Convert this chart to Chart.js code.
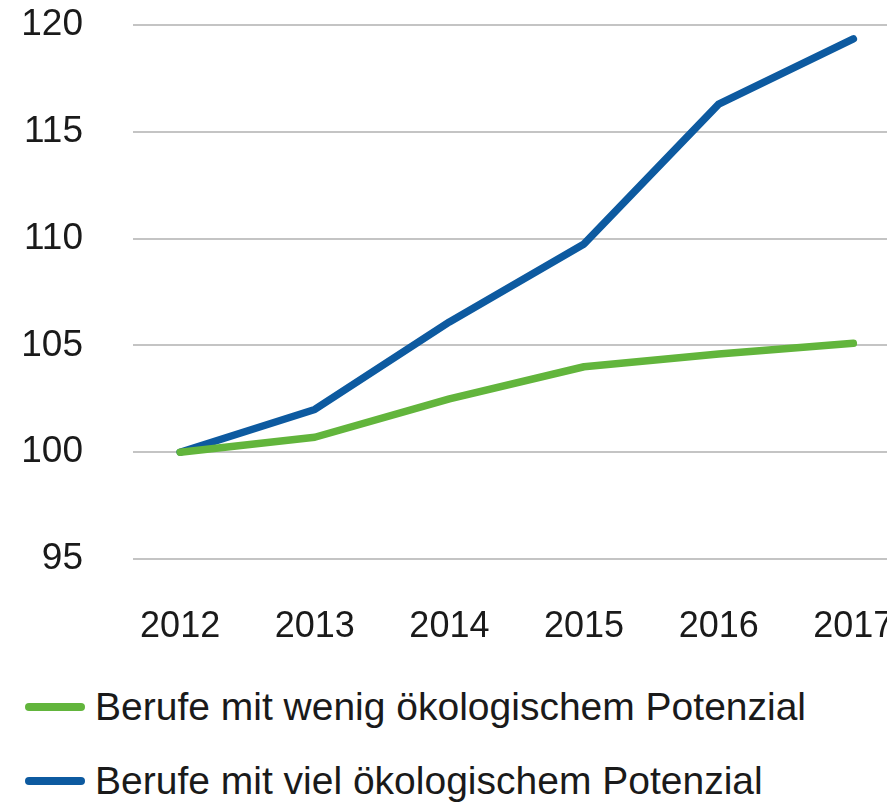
<!DOCTYPE html>
<html>
<head>
<meta charset="utf-8">
<script src="https://cdn.jsdelivr.net/npm/chart.js@4"></script>
<style>
  html, body { margin: 0; padding: 0; background: #fff; overflow: hidden; }
  #wrap { position: relative; width: 887px; height: 660px; }
  #legend { position: absolute; left: 0; top: 670px; width: 887px; }
  .item { display: flex; align-items: center; height: 74px; font-family: "Liberation Sans Narrow", "Liberation Sans", Arial, sans-serif; font-size: 39px; color: #1a1a1a; }
  .swatch { width: 60px; height: 8px; border-radius: 4px; margin-left: 25px; margin-right: 10px; }
</style>
</head>
<body>
<div id="wrap"><canvas id="chart" width="887" height="660"></canvas></div>
<div id="legend"></div>
<script>
// Data
const years = [2012, 2013, 2014, 2015, 2016, 2017];
const wenig = [100, 100.7, 102.5, 104.0, 104.6, 105.1];
const viel = [100, 102.0, 106.1, 109.75, 116.3, 119.35];
const seriesNames = ['Berufe mit wenig ökologischem Potenzial', 'Berufe mit viel ökologischem Potenzial'];
const seriesColors = ['#62b53c', '#0d5aa0'];
const yTicks = [95, 100, 105, 110, 115, 120];

const FONT = '"Liberation Sans", Arial, sans-serif';

function toPoints(vals) {
  return vals.map((v, i) => ({ x: years[i], y: v }));
}

const ctx = document.getElementById('chart').getContext('2d');
new Chart(ctx, {
  type: 'line',
  data: {
    datasets: [
      { label: seriesNames[0], data: toPoints(wenig), borderColor: seriesColors[0], borderWidth: 7.5, pointRadius: 0, borderCapStyle: 'round', borderJoinStyle: 'round', tension: 0 },
      { label: seriesNames[1], data: toPoints(viel), borderColor: seriesColors[1], borderWidth: 7.5, pointRadius: 0, borderCapStyle: 'round', borderJoinStyle: 'round', tension: 0 }
    ]
  },
  options: {
    responsive: false,
    animation: false,
    layout: { padding: { top: 25, right: 0, bottom: 0, left: 0 } },
    plugins: { legend: { display: false }, tooltip: { enabled: false } },
    scales: {
      x: {
        type: 'linear',
        min: 2011.65,
        max: 2017.25,
        afterBuildTicks: (axis) => { axis.ticks = years.map(v => ({ value: v })); },
        afterFit: (axis) => { axis.height = 101; axis.paddingLeft = 0; axis.paddingRight = 0; },
        grid: { display: false, drawTicks: false },
        border: { display: false },
        ticks: { color: '#1a1a1a', font: { family: FONT, size: 36 }, padding: 46, callback: (v) => String(v), maxRotation: 0, autoSkip: false }
      },
      y: {
        min: 95,
        max: 120,
        afterBuildTicks: (axis) => { axis.ticks = yTicks.map(v => ({ value: v })); },
        afterFit: (axis) => { axis.width = 133; axis.paddingTop = 0; axis.paddingBottom = 0; },
        grid: { color: '#c4c4c4', lineWidth: 2, drawTicks: false },
        border: { display: false },
        ticks: { color: '#1a1a1a', font: { family: FONT, size: 37 }, padding: 50 }
      }
    }
  }
});

// Legend
const legend = document.getElementById('legend');
seriesNames.forEach((name, i) => {
  const item = document.createElement('div');
  item.className = 'item';
  const sw = document.createElement('span');
  sw.className = 'swatch';
  sw.style.background = seriesColors[i];
  const txt = document.createElement('span');
  txt.textContent = name;
  item.appendChild(sw);
  item.appendChild(txt);
  legend.appendChild(item);
});
</script>
</body>
</html>
